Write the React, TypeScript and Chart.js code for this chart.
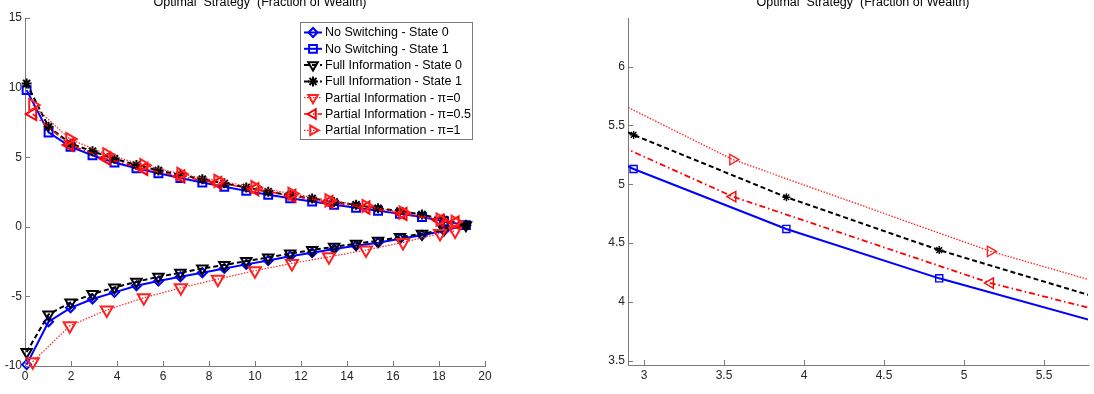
import React, { useEffect, useRef } from "react";
import { Chart, registerables } from "chart.js";

Chart.register(...registerables);

// ---------- data ----------
const titleText = "Optimal  Strategy  (Fraction of Wealth)";

const timeGrid = [
  0.07, 1.025, 1.98, 2.935, 3.89, 4.845, 5.8, 6.755, 7.71, 8.665, 9.62,
  10.575, 11.53, 12.485, 13.44, 14.395, 15.35, 16.305, 17.26, 18.215, 19.17,
];
const partialGrid = [
  0.335, 1.945, 3.555, 5.165, 6.775, 8.385, 9.995, 11.605, 13.215, 14.825,
  16.435, 18.045, 18.7,
];

const noSwitchState0 = [
  -9.9, -6.82, -5.82, -5.19, -4.71, -4.24, -3.9, -3.59, -3.3, -2.99, -2.7,
  -2.42, -2.12, -1.86, -1.6, -1.36, -1.14, -0.86, -0.6, -0.28, 0.12,
];
const noSwitchState1 = [
  9.82, 6.78, 5.75, 5.13, 4.62, 4.2, 3.84, 3.5, 3.18, 2.87, 2.58, 2.3, 2.05,
  1.81, 1.58, 1.37, 1.15, 0.94, 0.7, 0.4, 0.12,
];
const fullInfoState0 = [
  -9.0, -6.3, -5.43, -4.83, -4.36, -3.95, -3.59, -3.3, -2.99, -2.75, -2.46,
  -2.2, -1.92, -1.67, -1.44, -1.21, -1.0, -0.74, -0.5, -0.2, 0.12,
];
const fullInfoState1 = [
  10.3, 7.18, 5.99, 5.42, 4.89, 4.44, 4.05, 3.74, 3.42, 3.12, 2.83, 2.52,
  2.27, 2.03, 1.79, 1.58, 1.33, 1.13, 0.88, 0.52, 0.12,
];
const partialPi0 = [
  -9.7, -7.11, -5.98, -5.1, -4.38, -3.76, -3.15, -2.63, -2.16, -1.67, -1.12,
  -0.48, -0.3,
];
const partialPiHalf = [
  8.1, 5.88, 4.895, 4.16, 3.61, 3.15, 2.7, 2.22, 1.78, 1.38, 0.92, 0.45, 0.3,
];
const partialPi1 = [
  8.75, 6.3, 5.21, 4.43, 3.8, 3.3, 2.85, 2.38, 1.9, 1.5, 1.02, 0.52, 0.36,
];

const legendLabels = [
  "No Switching - State 0",
  "No Switching - State 1",
  "Full Information - State 0",
  "Full Information - State 1",
  "Partial Information - \u03c0=0",
  "Partial Information - \u03c0=0.5",
  "Partial Information - \u03c0=1",
];

const leftXTicks = [0, 2, 4, 6, 8, 10, 12, 14, 16, 18, 20];
const leftYTicks = [-10, -5, 0, 5, 10, 15];
const rightXTicks = [3, 3.5, 4, 4.5, 5, 5.5];
const rightYTicks = [3.5, 4, 4.5, 5, 5.5, 6];
const leftXRange = [0, 20];
const leftYRange = [-10, 15];
const rightXRange = [2.9, 5.775];
const rightYRange = [3.463, 6.414];

// ---------- styles ----------
const FONT = '"Liberation Sans", Arial, Helvetica, sans-serif';
const AXIS_COLOR = "#7a7a7a";
const TEXT_COLOR = "#262626";

type SeriesStyle = {
  color: string;
  width: number;
  widthSmall: number;
  dash: number[];
  marker: string;
  rotation: number;
  r: number;
  rSmall: number;
};

const seriesStyles: SeriesStyle[] = [
  { color: "#0000ff", width: 2, widthSmall: 2, dash: [], marker: "rectRot", rotation: 0, r: 4.5, rSmall: 4.5 },
  { color: "#0000ff", width: 2, widthSmall: 2, dash: [], marker: "rect", rotation: 0, r: 5.6, rSmall: 5 },
  { color: "#000000", width: 2, widthSmall: 2, dash: [5, 3], marker: "triangle", rotation: 180, r: 6, rSmall: 5.5 },
  { color: "#000000", width: 2, widthSmall: 2, dash: [5, 3], marker: "star", rotation: 0, r: 5, rSmall: 4 },
  { color: "#ff2020", width: 1.2, widthSmall: 1.3, dash: [1.5, 1.5], marker: "triangle", rotation: 180, r: 7, rSmall: 6 },
  { color: "#ff0000", width: 1.5, widthSmall: 1.8, dash: [6, 3, 1.5, 3], marker: "triangle", rotation: 270, r: 7, rSmall: 6 },
  { color: "#ff2020", width: 1.2, widthSmall: 1.3, dash: [1.5, 1.5], marker: "triangle", rotation: 90, r: 7, rSmall: 6 },
];

const seriesData = [
  { xs: timeGrid, ys: noSwitchState0 },
  { xs: timeGrid, ys: noSwitchState1 },
  { xs: timeGrid, ys: fullInfoState0 },
  { xs: timeGrid, ys: fullInfoState1 },
  { xs: partialGrid, ys: partialPi0 },
  { xs: partialGrid, ys: partialPiHalf },
  { xs: partialGrid, ys: partialPi1 },
];

function buildDatasets(small: boolean, xRange: number[], yRange: number[]) {
  return seriesData.map((s, i) => {
    const st = seriesStyles[i];
    const r = small ? st.rSmall : st.r;
    const radius = small
      ? (c: any) => {
          const raw = c.raw;
          if (!raw) return r;
          const inside =
            raw.x >= xRange[0] && raw.x <= xRange[1] && raw.y >= yRange[0] && raw.y <= yRange[1];
          return inside ? r : 0;
        }
      : r;
    return {
      label: legendLabels[i],
      data: s.xs.map((x, k) => ({ x, y: s.ys[k] })),
      borderColor: st.color,
      borderWidth: small ? st.widthSmall : st.width,
      borderDash: st.dash,
      pointStyle: st.marker,
      pointRotation: st.rotation,
      pointRadius: radius,
      pointHoverRadius: radius,
      pointBorderColor: st.color,
      pointBackgroundColor: "rgba(0,0,0,0)",
      pointBorderWidth: small ? 1.4 : 2,
      tension: 0,
      fill: false,
      clip: small ? 0 : false,
      order: seriesData.length - i,
    };
  });
}

function drawMarker(
  ctx: CanvasRenderingContext2D,
  style: string,
  rotation: number,
  r: number,
  x: number,
  y: number
) {
  let rad = (rotation * Math.PI) / 180;
  ctx.beginPath();
  if (style === "rect") {
    const s = Math.SQRT1_2 * r;
    ctx.rect(x - s, y - s, 2 * s, 2 * s);
  } else if (style === "rectRot") {
    ctx.moveTo(x - r, y);
    ctx.lineTo(x, y - r);
    ctx.lineTo(x + r, y);
    ctx.lineTo(x, y + r);
    ctx.closePath();
  } else if (style === "triangle") {
    ctx.moveTo(x + Math.sin(rad) * r, y - Math.cos(rad) * r);
    rad += (2 * Math.PI) / 3;
    ctx.lineTo(x + Math.sin(rad) * r, y - Math.cos(rad) * r);
    rad += (2 * Math.PI) / 3;
    ctx.lineTo(x + Math.sin(rad) * r, y - Math.cos(rad) * r);
    ctx.closePath();
  } else if (style === "star") {
    for (let k = 0; k < 4; k++) {
      const a = (k * Math.PI) / 4;
      ctx.moveTo(x - Math.cos(a) * r, y - Math.sin(a) * r);
      ctx.lineTo(x + Math.cos(a) * r, y + Math.sin(a) * r);
    }
  }
  ctx.stroke();
}

const matlabPlugin = {
  id: "matlabAxes",
  afterDraw(chart: any, _args: any, opts: any) {
    const { ctx, chartArea, scales } = chart;
    const xs = scales.x;
    const ys = scales.y;
    ctx.save();
    ctx.setLineDash([]);
    ctx.strokeStyle = AXIS_COLOR;
    ctx.lineWidth = 1;
    ctx.beginPath();
    xs.ticks.forEach((t: any) => {
      const px = Math.round(xs.getPixelForValue(t.value)) + 0.5;
      ctx.moveTo(px, chartArea.bottom);
      ctx.lineTo(px, chartArea.bottom - 5);
    });
    ys.ticks.forEach((t: any) => {
      const py = Math.round(ys.getPixelForValue(t.value)) + 0.5;
      ctx.moveTo(chartArea.left, py);
      ctx.lineTo(chartArea.left + 5, py);
    });
    ctx.stroke();

    // title
    ctx.fillStyle = "#000";
    ctx.font = `12.5px ${FONT}`;
    ctx.textAlign = "center";
    ctx.textBaseline = "alphabetic";
    ctx.fillText(titleText, (chartArea.left + chartArea.right) / 2 + 5, 6);

    if (opts && opts.legend) {
      const bx = 300.5;
      const by = 22.5;
      const bw = 172;
      const bh = 117;
      ctx.fillStyle = "#fff";
      ctx.fillRect(bx, by, bw, bh);
      ctx.strokeStyle = AXIS_COLOR;
      ctx.lineWidth = 1;
      ctx.strokeRect(bx, by, bw, bh);
      legendLabels.forEach((label, i) => {
        const st = seriesStyles[i];
        const cy = 32.5 + i * 16.3;
        ctx.strokeStyle = st.color;
        ctx.lineWidth = st.width;
        ctx.setLineDash(st.dash);
        ctx.beginPath();
        ctx.moveTo(304, cy);
        ctx.lineTo(322, cy);
        ctx.stroke();
        ctx.setLineDash([]);
        ctx.lineWidth = 2;
        drawMarker(ctx, st.marker, st.rotation, Math.min(st.r, 5.5), 313, cy);
        ctx.fillStyle = "#000";
        ctx.font = `12.5px ${FONT}`;
        ctx.textAlign = "left";
        ctx.textBaseline = "middle";
        ctx.fillText(label, 325, cy + 0.5);
      });
    }
    ctx.restore();
  },
};

type PanelProps = {
  left: number;
  width: number;
  xRange: number[];
  yRange: number[];
  xTicks: number[];
  yTicks: number[];
  padding: { left: number; right: number; top: number; bottom: number };
  xAxisHeight: number;
  small: boolean;
  legend: boolean;
};

function Panel(p: PanelProps) {
  const ref = useRef<HTMLCanvasElement>(null);
  useEffect(() => {
    if (!ref.current) return;
    const tickFont = { family: FONT, size: 12 };
    const fmt = (v: any) => String(Number(v));
    const chart = new Chart(ref.current, {
      type: "line",
      data: { datasets: buildDatasets(p.small, p.xRange, p.yRange) as any },
      plugins: [matlabPlugin as any],
      options: {
        responsive: false,
        animation: false,
        devicePixelRatio: 1,
        events: [],
        layout: { padding: p.padding },
        plugins: {
          legend: { display: false },
          title: { display: false },
          tooltip: { enabled: false },
          matlabAxes: { legend: p.legend },
        } as any,
        scales: {
          x: {
            type: "linear",
            min: p.xRange[0],
            max: p.xRange[1],
            afterBuildTicks: (s: any) => {
              s.ticks = p.xTicks.map((v) => ({ value: v }));
            },
            afterFit: (s: any) => {
              s.height = p.xAxisHeight;
            },
            grid: { display: false, drawTicks: false },
            border: { display: true, color: AXIS_COLOR, width: 1 },
            ticks: {
              color: TEXT_COLOR,
              font: tickFont,
              padding: 3,
              maxRotation: 0,
              autoSkip: false,
              includeBounds: false,
              callback: fmt,
            },
          },
          y: {
            type: "linear",
            min: p.yRange[0],
            max: p.yRange[1],
            afterBuildTicks: (s: any) => {
              s.ticks = p.yTicks.map((v) => ({ value: v }));
            },
            afterFit: (s: any) => {
              s.width = 25;
            },
            grid: { display: false, drawTicks: false },
            border: { display: true, color: AXIS_COLOR, width: 1 },
            ticks: {
              color: TEXT_COLOR,
              font: tickFont,
              padding: 3,
              autoSkip: false,
              includeBounds: false,
              callback: fmt,
            },
          },
        },
      } as any,
    });
    return () => chart.destroy();
  }, []);
  return (
    <canvas
      ref={ref}
      width={p.width}
      height={394}
      style={{ position: "absolute", left: p.left, top: 0, width: p.width, height: 394 }}
    />
  );
}

export default function App() {
  return (
    <div
      style={{
        position: "absolute",
        left: 0,
        top: 0,
        width: 1094,
        height: 394,
        background: "#fff",
        overflow: "hidden",
      }}
    >
      <Panel
        left={0}
        width={540}
        xRange={leftXRange}
        yRange={leftYRange}
        xTicks={leftXTicks}
        yTicks={leftYTicks}
        padding={{ left: 0, right: 55, top: 18, bottom: 0 }}
        xAxisHeight={28}
        small={false}
        legend={true}
      />
      <Panel
        left={540}
        width={554}
        xRange={rightXRange}
        yRange={rightYRange}
        xTicks={rightXTicks}
        yTicks={rightYTicks}
        padding={{ left: 63, right: 6, top: 18, bottom: 0 }}
        xAxisHeight={29}
        small={true}
        legend={false}
      />
    </div>
  );
}
